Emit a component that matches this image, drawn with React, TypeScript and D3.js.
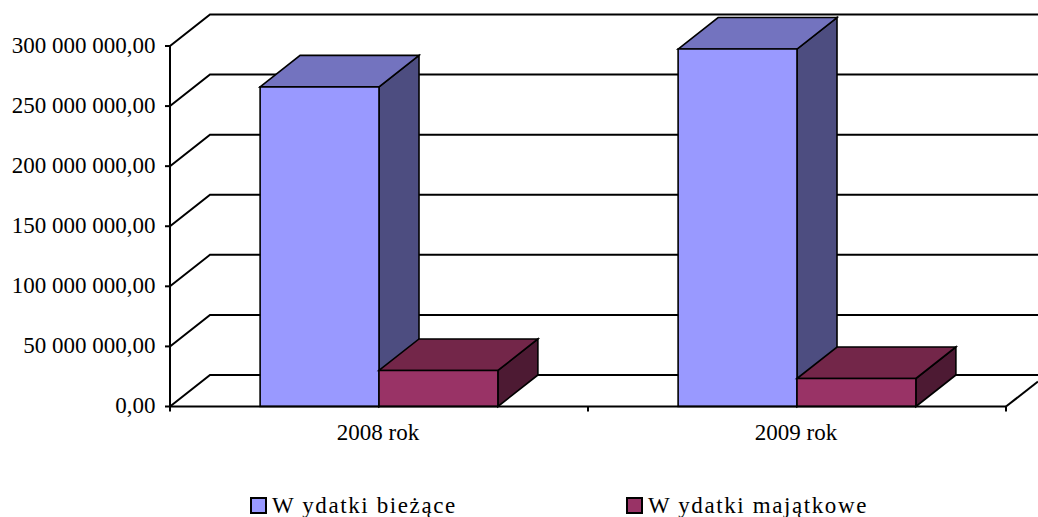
import React from "react";
import * as d3 from "d3";

const categories = ["2008 rok", "2009 rok"];
const seriesNames = ["Wydatki bieżące", "Wydatki majątkowe"];
const legendLabels = ["W ydatki bieżące", "W ydatki majątkowe"];
const biezace = [266000000, 297500000];
const majatkowe = [30000000, 23300000];
const yTicks = [0, 50000000, 100000000, 150000000, 200000000, 250000000, 300000000];
const tickLabels = ["0,00", "50 000 000,00", "100 000 000,00", "150 000 000,00", "200 000 000,00", "250 000 000,00", "300 000 000,00"];

const colors = [
  { front: "#9999ff", top: "#7373bf", side: "#4d4d80" },
  { front: "#993366", top: "#732649", side: "#4d1a33" },
];
const FONT = "'Liberation Serif', serif";

export default function App() {
  const x0 = 170, x1 = 1006, yBase = 406.5, yTop = 46;
  const dx = 40, dy = -31.5;
  const x = d3.scaleBand<string>().domain(categories).range([x0, x1]);
  const y = d3.scaleLinear().domain([0, 300000000]).range([yBase, yTop]);
  const inner = d3.scaleBand<string>().domain(seriesNames).range([0, x.bandwidth()]).paddingOuter(0.758).paddingInner(0);
  const line = d3.line();
  const seriesVals = [biezace, majatkowe];

  const box = (cat: string, si: number) => {
    const i = categories.indexOf(cat);
    const l = x(cat)! + inner(seriesNames[si])!;
    const r = l + inner.bandwidth();
    const t = y(seriesVals[si][i]);
    const c = colors[si];
    const path = (pts: [number, number][]) => line(pts)! + "Z";
    return (
      <g key={cat + si} stroke="#000" strokeWidth={1.6} strokeLinejoin="miter">
        <path d={path([[r, yBase], [r + dx, yBase + dy], [r + dx, t + dy], [r, t]])} fill={c.side} />
        <path d={path([[l, t], [l + dx, t + dy], [r + dx, t + dy], [r, t]])} fill={c.top} />
        <path d={path([[l, yBase], [l, t], [r, t], [r, yBase]])} fill={c.front} />
      </g>
    );
  };

  return (
    <svg width={1038} height={517} style={{ position: "absolute", left: 0, top: 0, background: "#fff" }}>
      <g stroke="#000" strokeWidth={2} fill="none">
        {yTicks.map((v) => (
          <path key={v} d={line([[x0, y(v)], [x0 + dx, y(v) + dy], [x1 + 32, y(v) + dy]])!} />
        ))}
        <path d={line([[x0, yTop], [x0, yBase]])!} />
        <path d={line([[x1, yBase], [x1 + 32, yBase - 25]])!} />
      </g>
      {categories.map((c) => box(c, 0))}
      {categories.map((c) => box(c, 1))}
      <g stroke="#000" strokeWidth={2} fill="none">
        <path d={line([[x0, yBase], [x1, yBase]])!} />
        {yTicks.map((v) => (
          <path key={v} d={line([[x0 - 5, y(v)], [x0, y(v)]])!} />
        ))}
        {[x0, x(categories[1])!, x1].map((v) => (
          <path key={v} d={line([[v, yBase], [v, yBase + 5]])!} />
        ))}
      </g>
      <g fontFamily={FONT} fontSize={23} fill="#000">
        {yTicks.map((v, i) => (
          <text key={v} x={155.5} y={y(v) + 6.5} textAnchor="end">{tickLabels[i]}</text>
        ))}
        {categories.map((c) => (
          <text key={c} x={x(c)! + x.bandwidth() / 2 - 1} y={440} textAnchor="middle">{c}</text>
        ))}
      </g>
      <g fontFamily={FONT} fontSize={23} fill="#000">
        {legendLabels.map((l, i) => {
          const lx = [250, 626][i];
          return (
            <g key={l}>
              <rect x={lx + 1} y={498} width={15} height={15} fill={colors[i].front} stroke="#000" strokeWidth={2} />
              <text x={lx + 22} y={513} letterSpacing={1.6}>{l}</text>
            </g>
          );
        })}
      </g>
    </svg>
  );
}
